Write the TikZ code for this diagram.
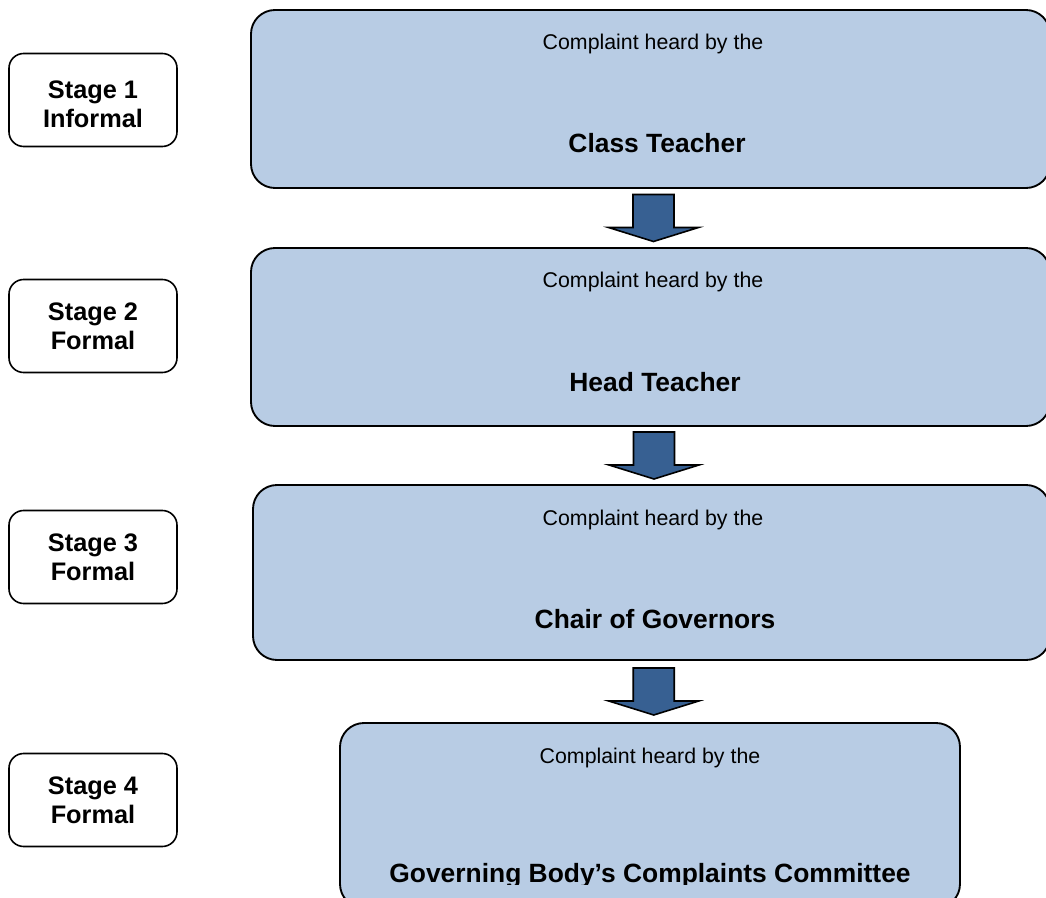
\documentclass[tikz,border=0pt]{standalone}
\usepackage{fontspec}
\setmainfont{Liberation Sans}
\usepackage{xcolor}
\usetikzlibrary{calc}
\definecolor{boxblue}{HTML}{B8CCE4}
\definecolor{arrowblue}{HTML}{376092}
\tikzset{
    bigbox/.style={draw=black, line width=1.4pt, fill=boxblue, rounded corners=18pt, inner sep=0pt},
    stagebox/.style={draw=black, line width=1.2pt, fill=white, rounded corners=11pt, minimum width=126pt, minimum height=69.75pt, inner sep=0pt},
    stagetext/.style={inner sep=0pt, align=center, font=\fontsize{19}{21.5}\selectfont\bfseries},
    heardtext/.style={anchor=base, inner sep=0pt, font=\fontsize{16}{19}\selectfont},
    whotext/.style={anchor=base, inner sep=0pt, font=\fontsize{19.8}{23}\selectfont\bfseries},
    flowarrow/.style={draw=black, line width=1.2pt, fill=arrowblue, line join=miter}
}

\begin{document}
\begin{tikzpicture}[x=0.75pt, y=-0.75pt]
    \clip (0,0) rectangle (1046,898);
    % Stages on the left
    \node[stagebox] (stage1) at (93,100) {};
    \node[stagetext] (label1) at ($(stage1)+(0,4)$) {Stage 1\\Informal};
    \node[stagebox] (stage2) at (93,326) {};
    \node[stagetext] (label2) at (stage2) {Stage 2\\Formal};
    \node[stagebox] (stage3) at (93,557) {};
    \node[stagetext] (label3) at (stage3) {Stage 3\\Formal};
    \node[stagebox] (stage4) at (93,800) {};
    \node[stagetext] (label4) at (stage4) {Stage 4\\Formal};

    % Who hears the complaint
    \node[bigbox, minimum width=599.25pt, minimum height=133.5pt] (comp1) at (650.5,99) {};
    \node[heardtext] (heard1) at (653,50) {Complaint heard by the};
    \node[whotext] (who1) at (657,153) {Class Teacher};

    \node[bigbox, minimum width=599.25pt, minimum height=133.5pt] (comp2) at (650.5,337) {};
    \node[heardtext] (heard2) at (653,288) {Complaint heard by the};
    \node[whotext] (who2) at (655,392) {Head Teacher};

    \node[bigbox, minimum width=597.75pt, minimum height=131.25pt] (comp3) at (651.5,572.5) {};
    \node[heardtext] (heard3) at (653,525) {Complaint heard by the};
    \node[whotext] (who3) at (655,628) {Chair of Governors};

    \node[bigbox, minimum width=465pt, minimum height=138.75pt] (comp4) at (650,815.5) {};
    \node[heardtext] (heard4) at (650,763) {Complaint heard by the};
    \begin{scope}
        \clip (340,700) rectangle (960,884);
        \node[whotext] (who4) at (650,882) {Governing Body’s Complaints Committee};
    \end{scope}

    % Block arrows between the boxes
    \foreach \from/\to in {comp1/comp2, comp2/comp3, comp3/comp4}
        \draw[flowarrow] ($(\from.south)!0.5!(\to.north)$) ++(-17.5,-23.5) -- ++(41,0) -- ++(0,33)
            -- ++(24.5,0) -- ++(-45,14) -- ++(-45,-14) -- ++(24.5,0) -- cycle;
\end{tikzpicture}
\end{document}
